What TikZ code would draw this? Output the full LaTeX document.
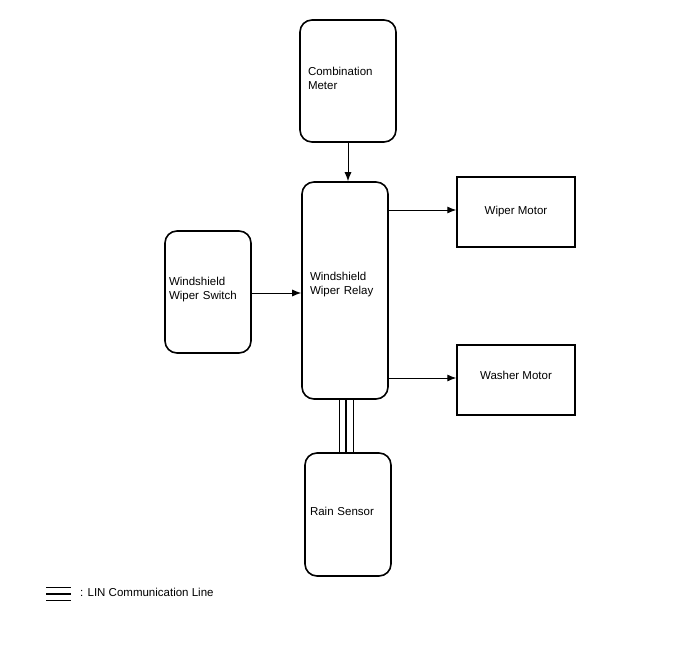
\documentclass[tikz,border=0pt]{standalone}
\usepackage{fontspec}
\setmainfont{Liberation Sans}
\usetikzlibrary{positioning,arrows.meta}

\begin{document}
\begin{tikzpicture}[
  x=1pt, y=-1pt,
  every node/.style={font=\fontsize{11.5}{14}\selectfont},
  ecu/.style={draw, line width=1.6pt, rounded corners=12pt, align=left,
    inner xsep=8pt, inner ysep=0pt},
  motor/.style={draw, line width=1.4pt, minimum width=118pt, minimum height=70pt},
  sig/.style={draw, line width=0.9pt, -{Latex[length=9pt,width=7pt]}},
  lin/.style={draw, line width=1pt},
  linthick/.style={draw, line width=2.6pt}
]
\useasboundingbox (0,0) rectangle (688,658);

\node[ecu, text width=80pt, minimum height=122pt, text depth=20pt] (meter) at (348,81) {Combination\\Meter};
\node[ecu, text width=70pt, minimum height=217pt, text depth=28.5pt] (relay) at (345,290.5) {Windshield\\Wiper Relay};
\node[ecu, text width=78pt, minimum height=122pt, inner xsep=4pt, text depth=21.5pt] (switch) at (208,292) {Windshield\\Wiper Switch};
\node[ecu, text width=76pt, minimum height=123pt, inner xsep=5pt, text depth=6pt] (rain) at (348,514.5) {Rain Sensor};
\node[motor] (wiper) at (516,212) {Wiper Motor};
\node[motor, text depth=10pt] (washer) at (516,380) {Washer Motor};

% signal lines
\draw[sig] (meter.south) -- (meter.south |- relay.north);
\draw[sig] (switch.east |- 0,293) -- (relay.west |- 0,293);
\draw[sig] (relay.east |- 0,210) -- (wiper.west |- 0,210);
\draw[sig] (relay.east |- 0,378) -- (washer.west |- 0,378);

% LIN line
\draw[lin] ([xshift=-5.5pt]relay.south) -- ([xshift=-5.5pt]relay.south |- rain.north);
\draw[linthick] ([xshift=1pt]relay.south) -- ([xshift=1pt]relay.south |- rain.north);
\draw[lin] ([xshift=8pt]relay.south) -- ([xshift=8pt]relay.south |- rain.north);

% legend
\coordinate (leg) at (46,594);
\coordinate (legend) at (71,594);
\draw[lin] ([yshift=-6pt]leg) -- ([yshift=-6pt]legend);
\draw[linthick] (leg) -- (legend);
\draw[lin] ([yshift=7pt]leg) -- ([yshift=7pt]legend);
\node[anchor=west, inner sep=0pt] (legtext) at (80,592) {: LIN Communication Line};
\end{tikzpicture}
\end{document}
